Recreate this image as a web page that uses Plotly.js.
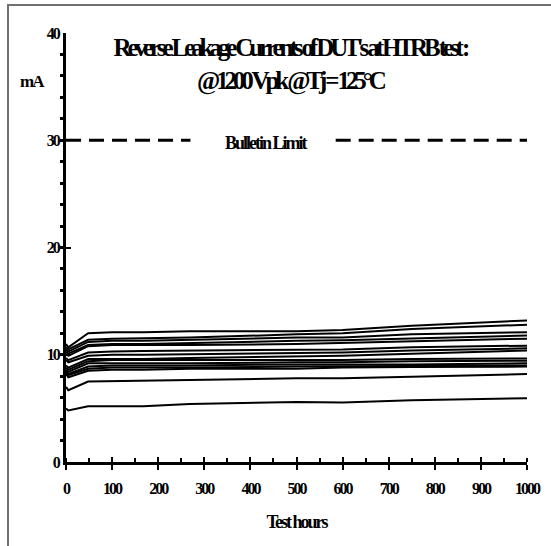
<!DOCTYPE html>
<html><head><meta charset="utf-8">
<script src="https://cdn.plot.ly/plotly-3.0.1.min.js"></script>
<style>
html,body{margin:0;padding:0;background:#fff;overflow:hidden;width:551px;height:546px;}
#chart{position:absolute;left:0;top:0;width:551px;height:546px;}
#frame{position:absolute;left:7px;top:4px;width:544px;height:542px;border-left:2px solid #707070;border-top:2px solid #707070;pointer-events:none;}
.gtitle{letter-spacing:-4.1px;}
.xtick text,.ytick text{letter-spacing:-2px;}
.annotation-text{letter-spacing:-2px;}
.g-xtitle text{letter-spacing:-2px;}
</style></head><body>
<div id="chart"></div><div id="frame"></div>
<script>
// Test hours (x) and reverse leakage currents in mA per DUT
const hours = [0, 5, 48, 100, 168, 268, 500, 600, 750, 1000];
const dut01 = [11.0, 10.7, 12.0, 12.1, 12.1, 12.2, 12.2, 12.3, 12.7, 13.2];
const dut02 = [10.7, 10.5, 11.4, 11.5, 11.55, 11.6, 11.9, 12.0, 12.4, 12.8];
const dut03 = [10.5, 10.3, 11.2, 11.3, 11.3, 11.4, 11.6, 11.6, 11.9, 12.1];
const dut04 = [10.3, 10.1, 10.9, 11.0, 11.0, 11.1, 11.3, 11.35, 11.5, 11.8];
const dut05 = [10.1, 9.9, 10.8, 10.9, 10.9, 10.9, 11.0, 11.1, 11.3, 11.5];
const dut06 = [9.7, 9.5, 10.2, 10.3, 10.35, 10.4, 10.5, 10.5, 10.7, 10.85];
const dut07 = [9.5, 9.3, 9.9, 10.0, 10.0, 10.05, 10.1, 10.2, 10.4, 10.6];
const dut08 = [9.0, 8.8, 9.6, 9.6, 9.6, 9.7, 9.8, 9.9, 10.1, 10.4];
const dut09 = [8.8, 8.6, 9.4, 9.5, 9.5, 9.5, 9.5, 9.5, 9.6, 9.65];
const dut10 = [8.6, 8.4, 9.2, 9.2, 9.2, 9.2, 9.3, 9.3, 9.4, 9.45];
const dut11 = [8.5, 8.2, 8.9, 9.0, 9.0, 9.0, 9.1, 9.1, 9.1, 9.2];
const dut12 = [8.3, 8.1, 8.7, 8.8, 8.8, 8.8, 8.9, 8.9, 8.95, 9.0];
const dut13 = [8.2, 7.9, 8.5, 8.6, 8.6, 8.7, 8.7, 8.8, 8.85, 8.9];
const dut14 = [7.0, 6.7, 7.5, 7.55, 7.6, 7.65, 7.8, 7.8, 7.95, 8.2];
const dut15 = [5.0, 4.8, 5.2, 5.2, 5.2, 5.4, 5.6, 5.55, 5.75, 5.95];
// Bulletin limit (mA), broken where the label sits
const limitHours = [0, 270, null, 585, 1000];
const limitValues = [30, 30, null, 30, 30];

const xTickVals = [0, 100, 200, 300, 400, 500, 600, 700, 800, 900, 1000];
const yTickVals = [0, 10, 20, 30, 40];

const FONT = 'Liberation Serif, Times New Roman, serif';
const duts = [dut01, dut02, dut03, dut04, dut05, dut06, dut07, dut08, dut09, dut10, dut11, dut12, dut13, dut14, dut15];

const traces = duts.map((v, i) => ({
  x: hours, y: v, type: 'scatter', mode: 'lines', name: 'DUT ' + (i + 1),
  line: {color: '#000', width: 2}, showlegend: false, hoverinfo: 'x+y'
}));
traces.push({
  x: limitHours, y: limitValues, type: 'scatter', mode: 'lines', name: 'Bulletin Limit',
  line: {color: '#000', width: 3, dash: '15px,8px'}, showlegend: false, connectgaps: false
});
// invisible helper on the overlay axis (for crossing major ticks)
traces.push({x: [0, 1000], y: [0, 0], xaxis: 'x2', type: 'scatter', mode: 'lines',
  line: {width: 0, color: 'rgba(0,0,0,0)'}, showlegend: false, hoverinfo: 'skip'});

const layout = {
  width: 551, height: 546,
  margin: {l: 66, r: 24, t: 33, b: 84},
  paper_bgcolor: '#fff', plot_bgcolor: '#fff',
  showlegend: false,
  title: {
    text: "Reverse Leakage Currents of DUT's at HTRB test :<br>@1200 Vpk @Tj = 125°C",
    font: {family: FONT, size: 25, weight: 'bold', color: '#000'},
    x: 0.526, xanchor: 'center', xref: 'container',
    y: 0.897, yanchor: 'middle', yref: 'container'
  },
  xaxis: {
    range: [0, 1000], tickvals: xTickVals, ticktext: xTickVals.map(String),
    showgrid: false, zeroline: false, showline: true, linecolor: '#000', linewidth: 3,
    ticks: 'outside', ticklen: 5, tickwidth: 2, tickcolor: '#000',
    minor: {dtick: 50, ticks: 'inside', ticklen: 4, tickwidth: 2, tickcolor: '#000', showgrid: false},
    ticklabelstandoff: 5,
    tickfont: {family: FONT, size: 16, weight: 'bold', color: '#000'},
    title: {text: 'Test hours', font: {family: FONT, size: 18, weight: 'bold', color: '#000'}, standoff: 20}
  },
  xaxis2: {
    range: [0, 1000], overlaying: 'x', anchor: 'y', side: 'bottom',
    tickvals: xTickVals, showticklabels: false, showgrid: false, zeroline: false, showline: false,
    ticks: 'inside', ticklen: 5, tickwidth: 2, tickcolor: '#000'
  },
  yaxis: {
    range: [0, 40], tickvals: yTickVals, ticktext: yTickVals.map(String),
    showgrid: false, zeroline: false, showline: true, linecolor: '#000', linewidth: 3,
    ticks: 'inside', ticklen: 5, tickwidth: 2, tickcolor: '#000',
    minor: {dtick: 2, ticks: 'outside', ticklen: 3, tickwidth: 3, tickcolor: '#000', showgrid: false},
    ticklabelstandoff: 1,
    tickfont: {family: FONT, size: 16, weight: 'bold', color: '#000'}
  },
  annotations: [
    {text: 'mA', xref: 'paper', yref: 'paper', x: -0.072, y: 0.886, xanchor: 'center', yanchor: 'middle',
     showarrow: false, font: {family: FONT, size: 17, weight: 'bold', color: '#000'}},
    {text: 'Bulletin Limit', xref: 'x', yref: 'y', x: 434, y: 30, xanchor: 'center', yanchor: 'middle', yshift: -3,
     showarrow: false, font: {family: FONT, size: 18, weight: 'bold', color: '#000'}}
  ]
};

Plotly.newPlot('chart', traces, layout, {displayModeBar: false, staticPlot: true});
</script>
</body></html>
